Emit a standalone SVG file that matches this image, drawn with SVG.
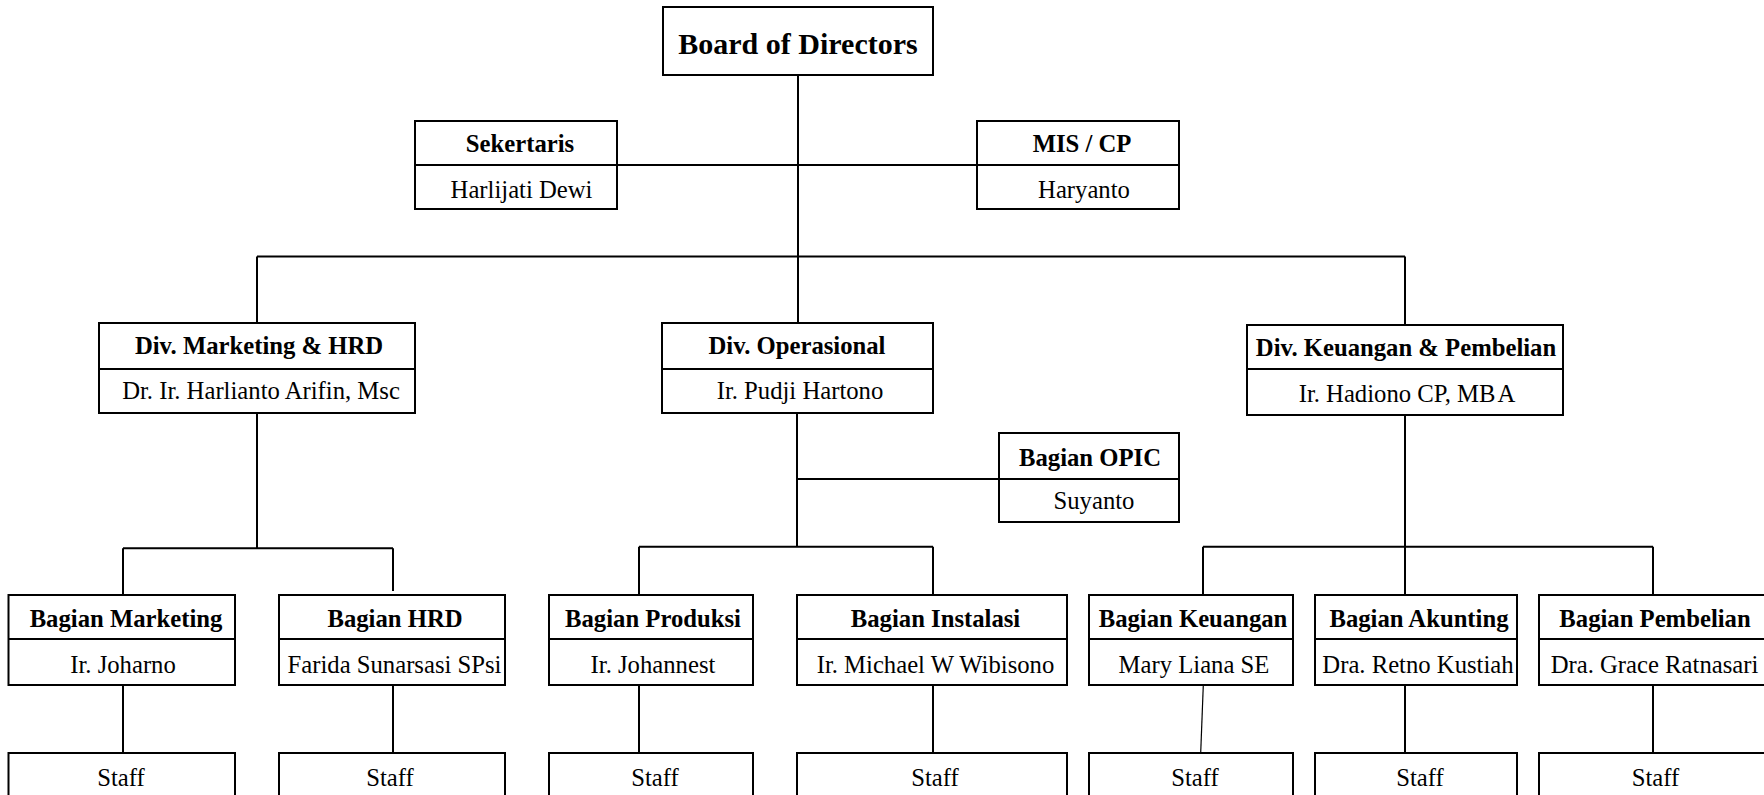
<svg xmlns="http://www.w3.org/2000/svg" width="1764" height="795" viewBox="0 0 1764 795">
<style>
.box{fill:#fff;stroke:#000;stroke-width:2}
.dv{stroke:#000;stroke-width:2}
.ln{stroke:#000;stroke-width:2;fill:none}
.thin{stroke:#000;stroke-width:1.2;fill:none}
.b{font-family:"Liberation Serif","Times New Roman",serif;font-weight:bold;font-size:24.7px;text-anchor:middle;fill:#000}
.r{font-family:"Liberation Serif","Times New Roman",serif;font-size:24.7px;text-anchor:middle;fill:#000}
.big{font-size:30px}
</style>
<rect width="1764" height="795" fill="#fff"/>
<g id="connectors">
<path class="ln" d="M798 75V256.5M617 165H977M257 256.5H1405M257 256.5V323M798 256.5V323M1405 256.5V325"/>
<path class="ln" d="M257 413V548.3M123 548.3H393M123 548.3V595M393 548.3V591"/>
<path class="ln" d="M797 413V546.7M797 479H999M639 546.7H933M639 546.7V595M933 546.7V595"/>
<path class="ln" d="M1405 415V546.7M1203 546.7H1653M1203 546.7V595M1405 546.7V595M1653 546.7V595"/>
<path class="ln" d="M123 685V753M393 685V753M639 685V753M933 685V753M1405 685V753M1653 685V753"/>
<path class="thin" d="M1203.3 685L1200.7 753"/>
</g>
<g id="board">
<rect class="box" x="663" y="7" width="270" height="68"/>
<text class="b big" x="798" y="54">Board of Directors</text>
</g>
<g id="sekertaris">
<rect class="box" x="415" y="121" width="202" height="88"/>
<line class="dv" x1="415" y1="165" x2="617" y2="165"/>
<text class="b" x="520" y="152">Sekertaris</text>
<text class="r" x="521.5" y="198">Harlijati Dewi</text>
</g>
<g id="mis">
<rect class="box" x="977" y="121" width="202" height="88"/>
<line class="dv" x1="977" y1="165" x2="1179" y2="165"/>
<text class="b" x="1082" y="152">MIS / CP</text>
<text class="r" x="1084" y="198">Haryanto</text>
</g>
<g id="div-marketing">
<rect class="box" x="99" y="323" width="316" height="90"/>
<line class="dv" x1="99" y1="369" x2="415" y2="369"/>
<text class="b" x="259" y="354">Div. Marketing &amp; HRD</text>
<text class="r" x="261" y="399">Dr. Ir. Harlianto Arifin, Msc</text>
</g>
<g id="div-operasional">
<rect class="box" x="662" y="323" width="271" height="90"/>
<line class="dv" x1="662" y1="369" x2="933" y2="369"/>
<text class="b" x="797" y="354">Div. Operasional</text>
<text class="r" x="800" y="399">Ir. Pudji Hartono</text>
</g>
<g id="div-keuangan">
<rect class="box" x="1247" y="325" width="316" height="90"/>
<line class="dv" x1="1247" y1="369" x2="1563" y2="369"/>
<text class="b" x="1406" y="356">Div. Keuangan &amp; Pembelian</text>
<text class="r" x="1407" y="402">Ir. Hadiono CP, M<tspan letter-spacing="2">B</tspan>A</text>
</g>
<g id="opic">
<rect class="box" x="999" y="433" width="180" height="89"/>
<line class="dv" x1="999" y1="479" x2="1179" y2="479"/>
<text class="b" x="1090" y="466">Bagian OPIC</text>
<text class="r" x="1094" y="509">Suyanto</text>
</g>
<g id="bagian-marketing">
<rect class="box" x="8.5" y="595" width="226.5" height="90"/>
<line class="dv" x1="8.5" y1="639" x2="235" y2="639"/>
<text class="b" x="126" y="627">Bagian Marketing</text>
<text class="r" x="123" y="673">Ir. Joharno</text>
</g>
<g id="bagian-hrd">
<rect class="box" x="279" y="595" width="226" height="90"/>
<line class="dv" x1="279" y1="639" x2="505" y2="639"/>
<text class="b" x="395" y="627">Bagian HRD</text>
<text class="r" x="394.5" y="673">Farida Sunarsasi SPsi</text>
</g>
<g id="bagian-produksi">
<rect class="box" x="549" y="595" width="204" height="90"/>
<line class="dv" x1="549" y1="639" x2="753" y2="639"/>
<text class="b" x="653" y="627">Bagian Produksi</text>
<text class="r" x="653" y="673">Ir. Johannest</text>
</g>
<g id="bagian-instalasi">
<rect class="box" x="797" y="595" width="270" height="90"/>
<line class="dv" x1="797" y1="639" x2="1067" y2="639"/>
<text class="b" x="935.5" y="627">Bagian Instalasi</text>
<text class="r" x="935.5" y="673">Ir. Michael W Wibisono</text>
</g>
<g id="bagian-keuangan">
<rect class="box" x="1089" y="595" width="204" height="90"/>
<line class="dv" x1="1089" y1="639" x2="1293" y2="639"/>
<text class="b" x="1193" y="627">Bagian Keuangan</text>
<text class="r" x="1194" y="673">Mary Liana SE</text>
</g>
<g id="bagian-akunting">
<rect class="box" x="1315" y="595" width="202" height="90"/>
<line class="dv" x1="1315" y1="639" x2="1517" y2="639"/>
<text class="b" x="1419" y="627">Bagian Akunting</text>
<text class="r" x="1418" y="673">Dra. Retno Kustiah</text>
</g>
<g id="bagian-pembelian">
<rect class="box" x="1539" y="595" width="232" height="90"/>
<line class="dv" x1="1539" y1="639" x2="1771" y2="639"/>
<text class="b" x="1655" y="627">Bagian Pembelian</text>
<text class="r" x="1654.5" y="673">Dra. Grace Ratnasari</text>
</g>
<g id="staff-marketing"><rect class="box" x="8.5" y="753" width="226.5" height="50"/><text class="r" x="121" y="786">Staff</text></g>
<g id="staff-hrd"><rect class="box" x="279" y="753" width="226" height="50"/><text class="r" x="390" y="786">Staff</text></g>
<g id="staff-produksi"><rect class="box" x="549" y="753" width="204" height="50"/><text class="r" x="655" y="786">Staff</text></g>
<g id="staff-instalasi"><rect class="box" x="797" y="753" width="270" height="50"/><text class="r" x="935" y="786">Staff</text></g>
<g id="staff-keuangan"><rect class="box" x="1089" y="753" width="204" height="50"/><text class="r" x="1195" y="786">Staff</text></g>
<g id="staff-akunting"><rect class="box" x="1315" y="753" width="202" height="50"/><text class="r" x="1420" y="786">Staff</text></g>
<g id="staff-pembelian"><rect class="box" x="1539" y="753" width="232" height="50"/><text class="r" x="1655.5" y="786">Staff</text></g>
</svg>
